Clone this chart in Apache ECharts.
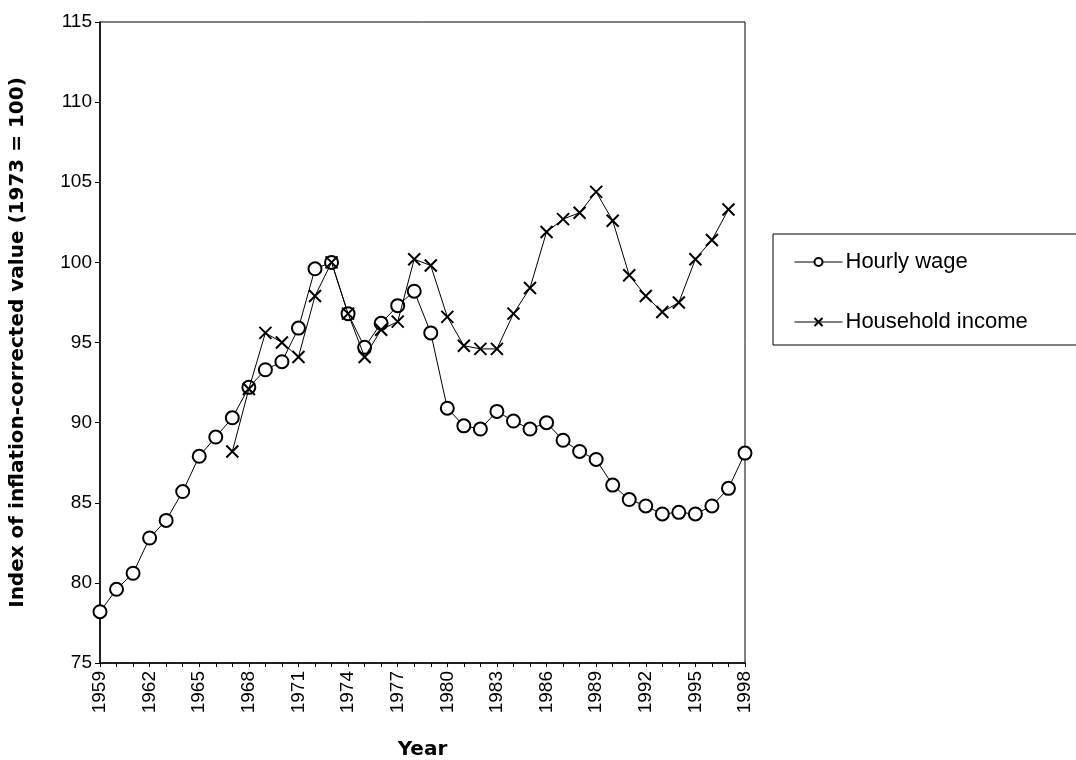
<!DOCTYPE html>
<html>
<head>
<meta charset="utf-8">
<script src="https://cdn.jsdelivr.net/npm/echarts@6/dist/echarts.min.js"></script>
<style>
  html, body { margin: 0; padding: 0; background: #fff; }
  #main { width: 1076px; height: 760px; }
</style>
</head>
<body>
<div id="main"></div>
<script>
// years on the x axis
var years = [];
for (var y = 1959; y <= 1998; y++) years.push(String(y));

// index values (1973 = 100)
var hourlyWage = [78.2, 79.6, 80.6, 82.8, 83.9, 85.7, 87.9, 89.1, 90.3, 92.2,
  93.3, 93.8, 95.9, 99.6, 100, 96.8, 94.7, 96.2, 97.3, 98.2,
  95.6, 90.9, 89.8, 89.6, 90.7, 90.1, 89.6, 90.0, 88.9, 88.2,
  87.7, 86.1, 85.2, 84.8, 84.3, 84.4, 84.3, 84.8, 85.9, 88.1];

var householdIncome = [null, null, null, null, null, null, null, null, 88.2, 92.1,
  95.6, 95.0, 94.1, 97.9, 100, 96.8, 94.1, 95.8, 96.3, 100.2,
  99.8, 96.6, 94.8, 94.6, 94.6, 96.8, 98.4, 101.9, 102.7, 103.1,
  104.4, 102.6, 99.2, 97.9, 96.9, 97.5, 100.2, 101.4, 103.3, null];

var font = 'Liberation Sans, Arial, sans-serif';
var boldFont = 'DejaVu Sans, Liberation Sans, sans-serif';
var crossPath = 'path://M0,0L10,10M10,0L0,10';

var myChart = echarts.init(document.getElementById('main'));
myChart.setOption({
  animation: false,
  backgroundColor: '#fff',
  textStyle: { fontFamily: font, color: '#000' },
  grid: {
    left: 100, right: 331, top: 22, bottom: 97,
    outerBoundsMode: 'none',
    containLabel: false,
    show: true, borderColor: '#000', borderWidth: 1
  },
  graphic: [{
    type: 'rect',
    shape: { x: 773, y: 234, width: 320, height: 111 },
    style: { fill: 'none', stroke: '#000', lineWidth: 1 }
  }],
  legend: {
    left: 789, top: 246,
    orient: 'vertical',
    itemGap: 38,
    itemWidth: 48,
    itemHeight: 10,
    lineStyle: { width: 1 },
    textStyle: { fontSize: 22, lineHeight: 22, fontFamily: font, color: '#000', padding: [0, 0, 0, -2] },
    data: ['Hourly wage', 'Household income']
  },
  xAxis: {
    type: 'category',
    data: years,
    boundaryGap: false,
    name: 'Year',
    nameLocation: 'middle',
    nameGap: 77,
    nameTextStyle: { fontSize: 20, fontWeight: 'bold', fontFamily: boldFont, color: '#000' },
    axisLine: { lineStyle: { color: '#000', width: 1.5 } },
    axisTick: { interval: 0, length: 4, lineStyle: { color: '#000' } },
    axisLabel: {
      interval: 2, rotate: 90, fontSize: 19, fontFamily: font, color: '#000', margin: 8
    },
    splitLine: { show: false }
  },
  yAxis: {
    type: 'value',
    min: 75, max: 115, interval: 5,
    name: 'Index of inflation-corrected value (1973 = 100)',
    nameLocation: 'middle',
    nameGap: 72,
    nameTextStyle: { fontSize: 20, fontWeight: 'bold', fontFamily: boldFont, color: '#000' },
    axisLine: { show: true, lineStyle: { color: '#000', width: 1.5 } },
    axisTick: { show: true, length: 5, lineStyle: { color: '#000' } },
    axisLabel: { fontSize: 19, fontFamily: font, color: '#000', margin: 8 },
    splitLine: { show: false }
  },
  series: [
    {
      name: 'Hourly wage',
      type: 'line',
      data: hourlyWage,
      symbol: 'circle',
      symbolSize: 13,
      showAllSymbol: true,
      lineStyle: { color: '#000', width: 1 },
      itemStyle: { color: '#fff', borderColor: '#000', borderWidth: 2 },
      z: 3
    },
    {
      name: 'Household income',
      type: 'line',
      data: householdIncome,
      symbol: crossPath,
      symbolSize: 12,
      showAllSymbol: true,
      lineStyle: { color: '#000', width: 1 },
      itemStyle: { color: '#000', borderColor: '#000', borderWidth: 2 },
      z: 4
    }
  ]
});
</script>
</body>
</html>
